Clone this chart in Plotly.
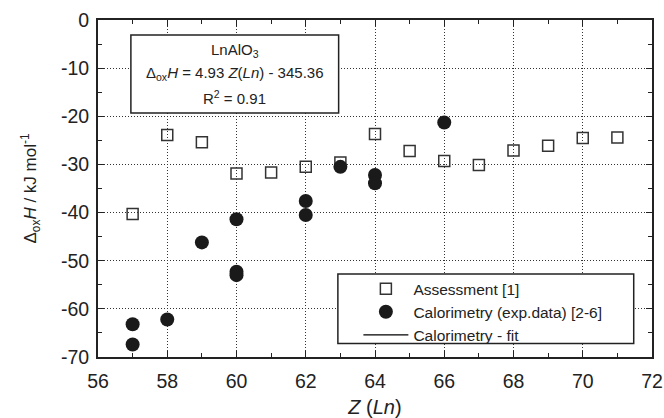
import plotly.graph_objects as go

# Assessment [1]
assess_z = [57, 58, 59, 60, 61, 62, 63, 64, 65, 66, 67, 68, 69, 70, 71]
assess_h = [-40.3, -23.9, -25.4, -31.9, -31.7, -30.5, -29.6, -23.7, -27.2, -29.3, -30.1, -27.1, -26.1, -24.5, -24.4]

# Calorimetry (exp.data) [2-6]
calor_z = [57, 57, 58, 59, 60, 60, 60, 62, 62, 63, 64, 64, 66]
calor_h = [-63.2, -67.4, -62.2, -46.2, -41.4, -52.3, -53.0, -37.6, -40.5, -30.5, -32.2, -33.9, -21.3]

x_ticks = [56, 58, 60, 62, 64, 66, 68, 70, 72]
y_ticks = [0, -10, -20, -30, -40, -50, -60, -70]

FONT = "Liberation Sans, Arial, sans-serif"
AX = "#222222"

fig = go.Figure()
fig.add_trace(go.Scatter(
    x=assess_z, y=assess_h, mode="markers", name="Assessment [1]",
    marker=dict(symbol="square-open", size=11, color="#333333", line=dict(width=1.5)),
))
fig.add_trace(go.Scatter(
    x=calor_z, y=calor_h, mode="markers", name="Calorimetry (exp.data) [2-6]",
    marker=dict(symbol="circle", size=14, color="#1a1a1a"),
))
fig.add_trace(go.Scatter(
    x=[None], y=[None], mode="lines", name="Calorimetry - fit",
    line=dict(color="#000000", width=1.3),
))

axis_common = dict(
    showline=True, linecolor=AX, linewidth=2, mirror="allticks",
    ticks="inside", ticklen=6, tickwidth=1.2, tickcolor=AX,
    showgrid=True, gridcolor="#333333", gridwidth=1, griddash="1px,2px",
    zeroline=False, automargin=False,
    tickfont=dict(family=FONT, size=19.5, color="#222"),
)

fig.update_xaxes(
    range=[56, 72], tickvals=x_ticks, ticktext=[str(v) for v in x_ticks],
    minor=dict(dtick=1, tick0=56, ticks="inside", ticklen=4, tickcolor=AX, showgrid=False),
    title=dict(text="<i>Z</i> (<i>Ln</i>)", font=dict(family=FONT, size=20, color="#222"), standoff=14),
    ticklabelstandoff=6,
    **axis_common,
)
fig.update_yaxes(
    range=[-70, 0], tickvals=y_ticks, ticktext=[str(v) for v in y_ticks],
    minor=dict(dtick=5, tick0=0, ticks="inside", ticklen=4, tickcolor=AX, showgrid=False),
    title=dict(text="Δ<sub>ox</sub><i>H</i> / kJ mol<sup>-1</sup>", font=dict(family=FONT, size=17, color="#222"), standoff=20),
    ticklabelstandoff=3,
    **axis_common,
)

# equation box
fig.add_shape(type="rect", xref="x", yref="y", x0=56.95, x1=62.95, y0=-19.3, y1=-3.1,
              fillcolor="white", line=dict(color=AX, width=1.5), layer="above")
fig.add_annotation(xref="x", yref="y", x=59.95, y=-6.3, showarrow=False,
                   text="LnAlO<sub>3</sub>", font=dict(family=FONT, size=15, color="#222"))
fig.add_annotation(xref="x", yref="y", x=59.95, y=-11.2, showarrow=False,
                   text="Δ<sub>ox</sub><i>H</i> = 4.93 <i>Z</i>(<i>Ln</i>) - 345.36",
                   font=dict(family=FONT, size=15, color="#222"))
fig.add_annotation(xref="x", yref="y", x=59.95, y=-16.2, showarrow=False,
                   text="R<sup>2</sup> = 0.91", font=dict(family=FONT, size=15, color="#222"))

# legend box
fig.add_shape(type="rect", xref="paper", yref="paper", x0=0.433, x1=0.967, y0=0.04, y1=0.246,
              fillcolor="white", line=dict(color=AX, width=1.5), layer="above")

fig.update_layout(
    width=664, height=418,
    margin=dict(l=98, r=12, t=20, b=61),
    paper_bgcolor="white", plot_bgcolor="white",
    font=dict(family=FONT, size=15, color="#222"),
    showlegend=True,
    legend=dict(x=0.47, y=0.252, xanchor="left", yanchor="top",
                bgcolor="rgba(0,0,0,0)", borderwidth=0,
                font=dict(family=FONT, size=15.5, color="#222"),
                itemwidth=45, tracegroupgap=0),
)

fig.write_html("out.html", config={"displayModeBar": False},
               post_script="document.body.style.margin='0px';")
